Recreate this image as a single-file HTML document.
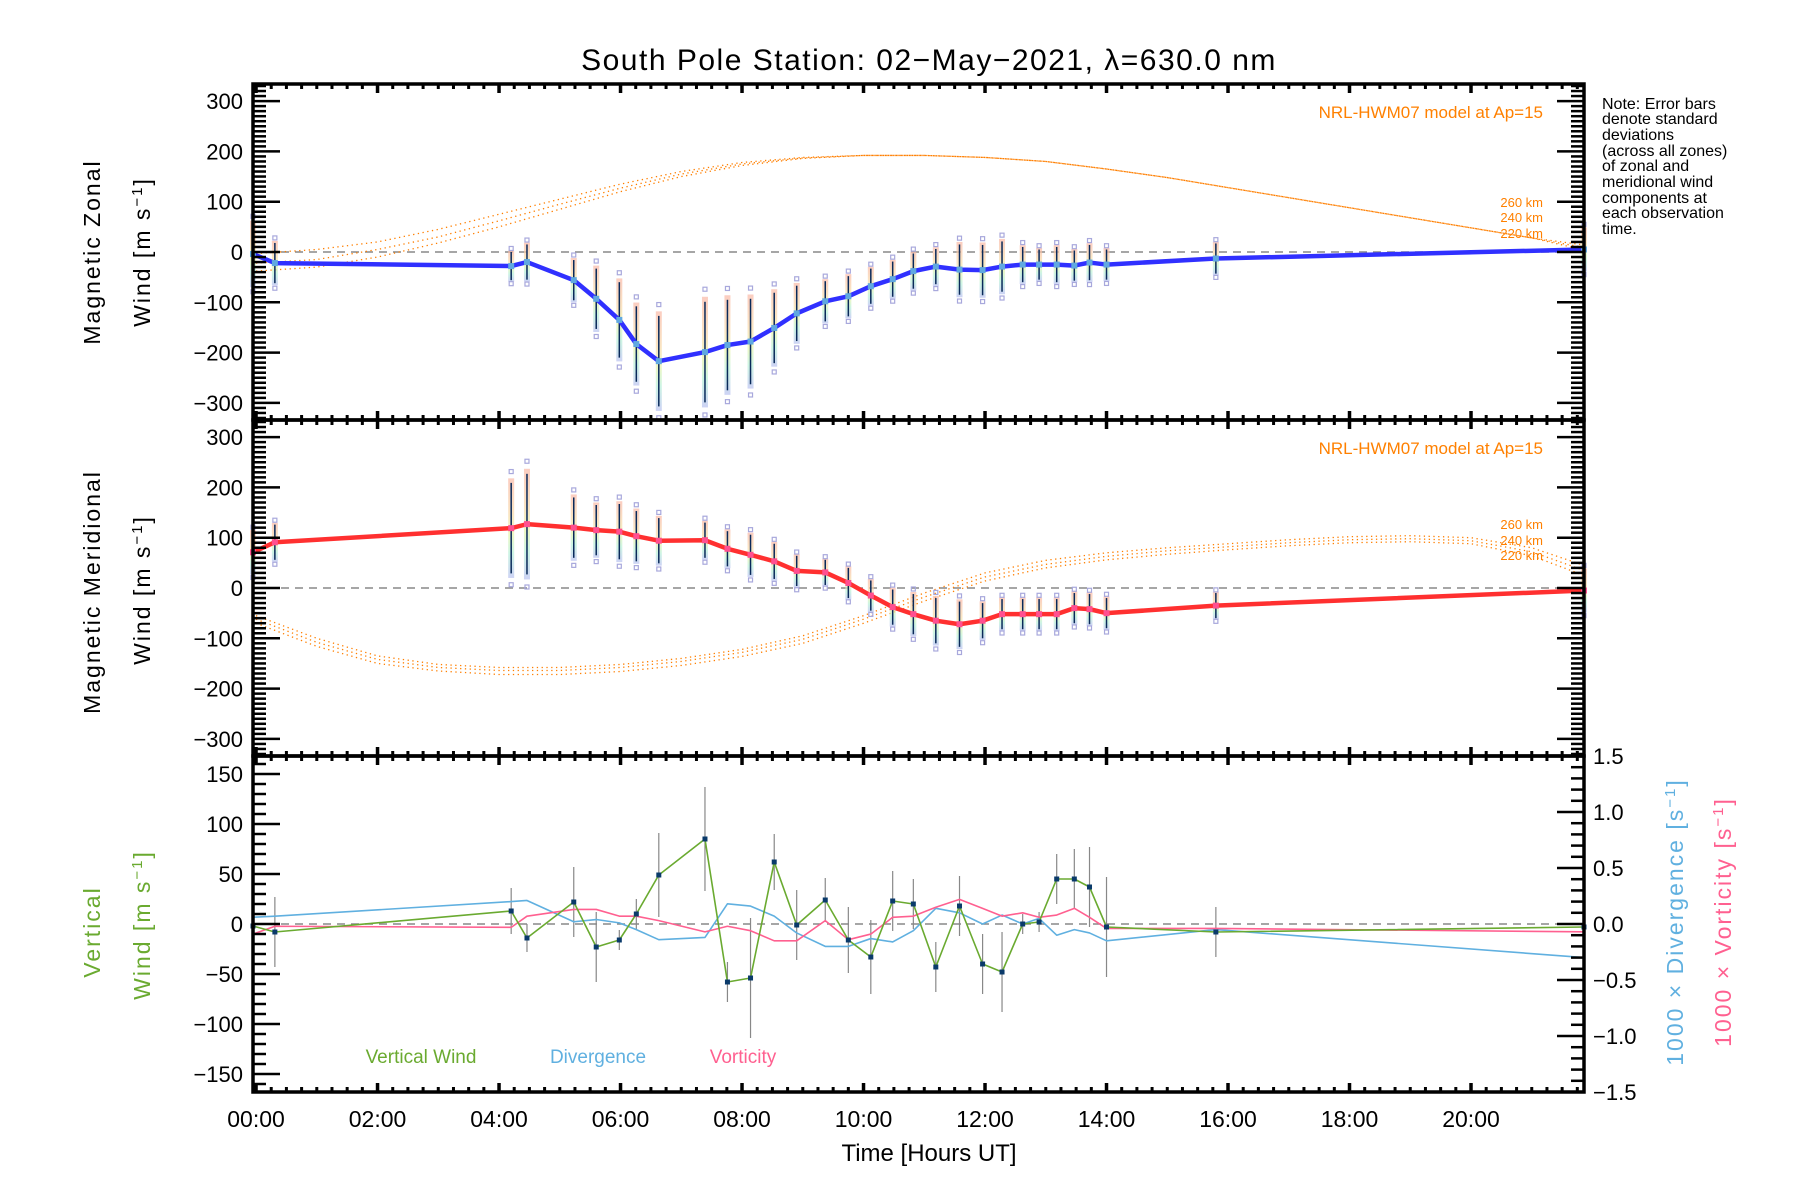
<!DOCTYPE html>
<html><head><meta charset="utf-8"><title>South Pole Station winds</title>
<style>
html,body{margin:0;padding:0;background:#fff;}
svg{display:block;font-family:"Liberation Sans",sans-serif;}
</style></head>
<body>
<svg id="chart" xmlns="http://www.w3.org/2000/svg" width="1800" height="1200" viewBox="0 0 1800 1200">
<rect x="0" y="0" width="1800" height="1200" fill="#fff"/>
<text x="929" y="70" font-size="30" text-anchor="middle" fill="#000" letter-spacing="1.5">South Pole Station: 02−May−2021, λ=630.0 nm</text>
<g id="layer"></g>
</svg>
<script>
// ---- data ----
const times = [-0.05,0.31,4.20,4.46,5.23,5.60,5.98,6.26,6.63,7.39,7.76,8.14,8.53,8.90,9.37,9.75,10.12,10.48,10.82,11.19,11.58,11.96,12.28,12.62,12.89,13.18,13.47,13.72,14.00,15.80,21.86];
const zonal = [-4,-22,-28,-20,-56,-93,-135,-183,-217,-199,-185,-178,-151,-122,-98,-88,-68,-54,-38,-29,-35,-36,-29,-25,-25,-25,-27,-21,-25,-13,5];
const zonalErr = [60,40,28,35,40,60,75,75,90,100,90,85,70,55,40,40,35,35,35,35,50,50,50,35,30,35,30,35,30,30,40];
const merid = [71,91,119,127,120,115,112,103,94,95,78,66,53,34,31,10,-15,-38,-52,-65,-72,-65,-52,-52,-52,-52,-40,-42,-50,-35,-5];
const meridErr = [40,35,90,100,60,50,55,50,45,35,35,40,35,30,25,30,30,35,40,45,45,35,30,30,30,30,30,30,30,25,40];
const vert = [-2,-8,13,-14,22,-23,-16,10,49,85,-58,-54,62,-1,24,-16,-33,23,20,-43,18,-40,-48,0,2,45,45,37,-3,-8,-3];
const vertErr = [0,35,23,14,35,35,10,15,42,52,20,60,28,35,22,33,37,30,25,25,30,30,40,10,10,25,30,40,50,25,0];
const divergence = [0.06,0.07,0.20,0.21,0.02,0.04,0.01,-0.05,-0.14,-0.12,0.18,0.16,0.07,-0.08,-0.20,-0.20,-0.13,-0.16,-0.06,0.14,0.10,0.0,0.08,0.0,0.05,-0.10,-0.05,-0.08,-0.15,-0.05,-0.30];
const vorticity = [-0.09,-0.02,-0.03,0.07,0.13,0.13,0.07,0.07,0.03,-0.07,-0.02,-0.06,-0.15,-0.15,0.03,-0.14,-0.09,0.06,0.07,0.15,0.22,0.14,0.07,0.10,0.06,0.08,0.14,0.06,-0.04,-0.04,-0.07];
const modelHours = [0,1,2,3,4,5,6,7,8,9,10,11,12,13,14,15,16,17,18,19,20,21,21.86];
const zonal260 = [-3,5,20,45,75,105,135,160,178,188,192,192,188,180,165,148,128,108,88,68,48,28,14];
const zonal240 = [-22,-15,5,30,62,95,127,155,175,187,192,192,188,180,165,148,128,108,88,68,48,28,9];
const zonal220 = [-38,-30,-10,18,50,85,120,150,172,186,192,192,188,180,165,148,128,108,88,68,48,28,4];
const merid260 = [-55,-100,-135,-152,-158,-158,-152,-140,-122,-95,-55,-10,30,55,70,80,88,96,102,104,100,80,45];
const merid240 = [-62,-108,-142,-158,-164,-164,-158,-146,-128,-102,-62,-18,22,47,63,74,82,90,96,98,94,72,35];
const merid220 = [-70,-116,-150,-165,-172,-172,-166,-154,-136,-110,-70,-26,14,40,56,67,76,84,90,92,88,64,25];
const xTickHours = [0,2,4,6,8,10,12,14,16,18,20];
const xTickLabels = ["00:00","02:00","04:00","06:00","08:00","10:00","12:00","14:00","16:00","18:00","20:00"];
const windTicks = [300,200,100,0,-100,-200,-300];
const vertTicks = [150,100,50,0,-50,-100,-150];
const rightTicks = [1.5,1.0,0.5,0.0,-0.5,-1.0,-1.5];
const rightTickLabels = ["1.5","1.0","0.5","0.0","−0.5","−1.0","−1.5"];

// ---- geometry ----
const L=253, R=1584, X0=-0.05, X1=21.86;
const P=[{t:84,b:420},{t:420,b:756},{t:756,b:1092}];
const NS="http://www.w3.org/2000/svg";
const layer=document.getElementById('layer');
function x(h){return L+(h-X0)/(X1-X0)*(R-L);}
function yW(p,v){const m=(P[p].t+P[p].b)/2;return m-v*(P[p].b-P[p].t)/668;}
function yV(v){return 924-v;}
function yR(v){return 924-v*112;}
function mk(tag,attrs,parent){const e=document.createElementNS(NS,tag);for(const k in attrs)e.setAttribute(k,attrs[k]);(parent||layer).appendChild(e);return e;}
function txt(s,attrs){const e=mk('text',attrs);e.textContent=s;return e;}

const defs=mk('defs',{});
const g=mk('linearGradient',{id:'pastel',x1:0,y1:0,x2:0,y2:1},defs);
[["0","#f9b8a6"],["0.35","#f8d8a8"],["0.55","#e8f4a8"],["0.75","#b8f0d8"],["1","#b8c0f0"]].forEach(s=>mk('stop',{offset:s[0],'stop-color':s[1]},g));

[0,1].forEach(p=>{const l=mk('line',{x1:L,x2:R,y1:yW(p,0),y2:yW(p,0),stroke:'#888','stroke-width':1.5,'stroke-dasharray':'8,6'});

});
{const l=mk('line',{x1:L,x2:R,y1:yV(0),y2:yV(0),stroke:'#888','stroke-width':1.5,'stroke-dasharray':'8,6'});

}

function model(p,arr,name){const pts=modelHours.map((h,i)=>x(h)+','+yW(p,arr[i])).join(' ');
const e=mk('polyline',{points:pts,fill:'none',stroke:'#ff7f00','stroke-width':1.3,'stroke-dasharray':'1.3,3.5'});

}
model(0,zonal260,'zonal-model-260km');model(0,zonal240,'zonal-model-240km');model(0,zonal220,'zonal-model-220km');
model(1,merid260,'meridional-model-260km');model(1,merid240,'meridional-model-240km');model(1,merid220,'meridional-model-220km');

function errBars(p,vals,errs,name){times.forEach((h,i)=>{const cx=x(h);
const r=mk('rect',{x:cx-3,y:yW(p,vals[i]+errs[i]*1.1),width:6,height:yW(p,vals[i]-errs[i]*1.1)-yW(p,vals[i]+errs[i]*1.1),fill:'url(#pastel)',opacity:0.7});


[1.25,-1.25].forEach(f=>{const s=mk('rect',{x:cx-2,y:yW(p,vals[i]+errs[i]*f)-2,width:4,height:4,fill:'none',stroke:'#a8a8dc','stroke-width':1.2});

});
const l=mk('line',{x1:cx,x2:cx,y1:yW(p,vals[i]+errs[i]),y2:yW(p,vals[i]-errs[i]),stroke:'#0a2a5a','stroke-width':1.5});

});}
errBars(0,zonal,zonalErr,'zonal');
errBars(1,merid,meridErr,'meridional');

function series(pts,color,w,name){const e=mk('polyline',{points:pts,fill:'none',stroke:color,'stroke-width':w,'stroke-linejoin':'round'});

return e;}
series(times.map((h,i)=>x(h)+','+yW(0,zonal[i])).join(' '),'#3030ff',4.5,'zonal-wind-line');
series(times.map((h,i)=>x(h)+','+yW(1,merid[i])).join(' '),'#ff3030',4.5,'meridional-wind-line');
times.forEach((h,i)=>{const a=mk('rect',{x:x(h)-3,y:yW(0,zonal[i])-3,width:6,height:6,fill:'#60a8e0'});


const b=mk('rect',{x:x(h)-3,y:yW(1,merid[i])-3,width:6,height:6,fill:'#ff5090'});

});

times.forEach((h,i)=>{if(vertErr[i]>0){const l=mk('line',{x1:x(h),x2:x(h),y1:yV(vert[i]+vertErr[i]),y2:yV(vert[i]-vertErr[i]),stroke:'#888','stroke-width':1.2});

}});
series(times.map((h,i)=>x(h)+','+yR(divergence[i])).join(' '),'#60b0e0',1.6,'divergence-line');
series(times.map((h,i)=>x(h)+','+yR(vorticity[i])).join(' '),'#ff6090',1.6,'vorticity-line');
series(times.map((h,i)=>x(h)+','+yV(vert[i])).join(' '),'#6aaa30',1.6,'vertical-wind-line');
times.forEach((h,i)=>{const a=mk('rect',{x:x(h)-2.5,y:yV(vert[i])-2.5,width:5,height:5,fill:'#0a3a6a'});

});

P.forEach((pp,pi)=>{const f=mk('rect',{x:L,y:pp.t,width:R-L,height:pp.b-pp.t,fill:'none',stroke:'#000','stroke-width':3.5});


for(let q=0;q<=88;q++){const h=q*0.25;const xx=x(h);if(xx>R)break;const maj=q%8===0;const len=maj?9:5;
mk('line',{x1:xx,x2:xx,y1:pp.t,y2:pp.t+len,stroke:'#000','stroke-width':maj?3.5:3});
mk('line',{x1:xx,x2:xx,y1:pp.b,y2:pp.b-len,stroke:'#000','stroke-width':maj?3.5:3});}});
[0,1].forEach(p=>{for(let v=-330;v<=330;v+=10){const yy=yW(p,v);const maj=v%100===0;const len=maj?27:13;
mk('line',{x1:L,x2:L+len,y1:yy,y2:yy,stroke:'#000','stroke-width':2.5});
mk('line',{x1:R,x2:R-len,y1:yy,y2:yy,stroke:'#000','stroke-width':2.5});}
windTicks.forEach(v=>{const t=txt(v<0?'−'+Math.abs(v):String(v),{x:243,y:yW(p,v)+8,'font-size':22,'text-anchor':'end',fill:'#000'});

});});
for(let v=-160;v<=160;v+=10){const yy=yV(v);const maj=v%50===0;mk('line',{x1:L,x2:L+(maj?27:13),y1:yy,y2:yy,stroke:'#000','stroke-width':2.5});}
vertTicks.forEach(v=>{const t=txt(v<0?'−'+Math.abs(v):String(v),{x:243,y:yV(v)+8,'font-size':22,'text-anchor':'end',fill:'#000'});

});
for(let k=-15;k<=15;k++){const yy=yR(k/10);const maj=k%5===0;mk('line',{x1:R,x2:R-(maj?27:13),y1:yy,y2:yy,stroke:'#000','stroke-width':2.5});}
rightTicks.forEach((v,i)=>{const t=txt(rightTickLabels[i],{x:1593,y:yR(v)+8,'font-size':22,fill:'#000'});

});
xTickHours.forEach((h,i)=>{const t=txt(xTickLabels[i],{x:x(h),y:1127,'font-size':23,'text-anchor':'middle',fill:'#000'});

});
</script>
<div style="position:absolute;left:0;top:0;width:1800px;height:1200px;pointer-events:none;">
<svg width="1800" height="1200" style="font-family:'Liberation Sans',sans-serif;">
<text x="929" y="1161" font-size="24" text-anchor="middle">Time [Hours UT]</text>
<text transform="translate(100,252) rotate(-90)" font-size="23" text-anchor="middle" letter-spacing="2">Magnetic Zonal</text>
<text transform="translate(150,252) rotate(-90)" font-size="23" text-anchor="middle" letter-spacing="2">Wind [m s<tspan baseline-shift="super" font-size="15">−1</tspan>]</text>
<text transform="translate(100,592) rotate(-90)" font-size="23" text-anchor="middle" letter-spacing="2">Magnetic Meridional</text>
<text transform="translate(150,590) rotate(-90)" font-size="23" text-anchor="middle" letter-spacing="2">Wind [m s<tspan baseline-shift="super" font-size="15">−1</tspan>]</text>
<text transform="translate(100,932) rotate(-90)" font-size="23" text-anchor="middle" letter-spacing="2" fill="#6aaa30">Vertical</text>
<text transform="translate(150,925) rotate(-90)" font-size="23" text-anchor="middle" letter-spacing="2" fill="#6aaa30">Wind [m s<tspan baseline-shift="super" font-size="15">−1</tspan>]</text>
<text transform="translate(1683,922) rotate(-90)" font-size="23" text-anchor="middle" letter-spacing="2" fill="#60b0e0">1000 × Divergence [s<tspan baseline-shift="super" font-size="15">−1</tspan>]</text>
<text transform="translate(1731,922) rotate(-90)" font-size="23" text-anchor="middle" letter-spacing="2" fill="#ff6090">1000 × Vorticity [s<tspan baseline-shift="super" font-size="15">−1</tspan>]</text>
<text x="421" y="1063" font-size="19" text-anchor="middle" fill="#6aaa30">Vertical Wind</text>
<text x="598" y="1063" font-size="19" text-anchor="middle" fill="#60b0e0">Divergence</text>
<text x="743" y="1063" font-size="19" text-anchor="middle" fill="#ff6090">Vorticity</text>
<g fill="#ff8000" text-anchor="end">
<text x="1543" y="118" font-size="17">NRL-HWM07 model at Ap=15</text>
<text x="1543" y="207" font-size="13">260 km</text>
<text x="1543" y="222" font-size="13">240 km</text>
<text x="1543" y="238" font-size="13">220 km</text>
<text x="1543" y="454" font-size="17">NRL-HWM07 model at Ap=15</text>
<text x="1543" y="529" font-size="13">260 km</text>
<text x="1543" y="545" font-size="13">240 km</text>
<text x="1543" y="560" font-size="13">220 km</text>
</g>
<g font-size="16" fill="#000">
<text x="1602" y="109">Note: Error bars</text>
<text x="1602" y="124">denote standard</text>
<text x="1602" y="140">deviations</text>
<text x="1602" y="156">(across all zones)</text>
<text x="1602" y="171">of zonal and</text>
<text x="1602" y="187">meridional wind</text>
<text x="1602" y="203">components at</text>
<text x="1602" y="218">each observation</text>
<text x="1602" y="234">time.</text>
</g>
</svg>
</div>
</body></html>
